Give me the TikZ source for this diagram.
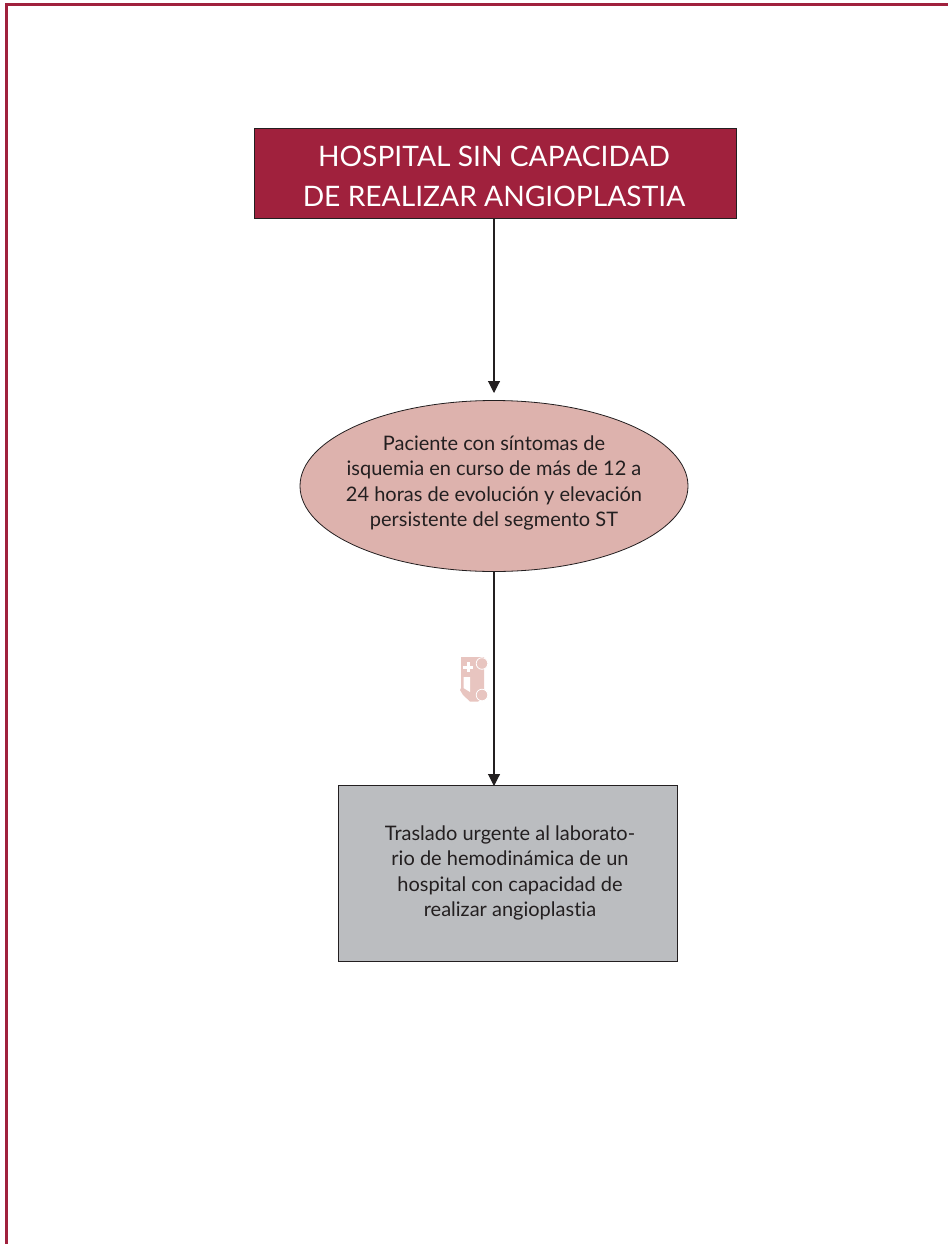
\documentclass[tikz,border=0pt]{standalone}
\usepackage{fontspec}
\setmainfont[Ligatures=NoCommon]{Lato}
\usetikzlibrary{arrows.meta,shapes.geometric}
\definecolor{wine}{HTML}{A0213D}
\definecolor{rose}{HTML}{DDB2AD}
\definecolor{slate}{HTML}{BBBDC0}
\definecolor{amb}{HTML}{E8C5C0}
\definecolor{ink}{HTML}{231F20}
\tikzset{
  x=1pt,y=-1pt,
  frameline/.style={wine,line width=3pt},
  titlebox/.style={draw=ink,line width=0.7pt,fill=wine,minimum width=482pt,minimum height=90pt,inner sep=0pt},
  titletext/.style={text=white,inner sep=0pt,align=center,font=\fontsize{28.2}{40}\selectfont},
  oval/.style={ellipse,draw=ink,line width=0.8pt,fill=rose,minimum width=388pt,minimum height=171pt,inner sep=0pt},
  greybox/.style={draw=ink,line width=0.8pt,fill=slate,minimum width=339pt,minimum height=176pt,inner sep=0pt},
  bodytext/.style={text=ink,inner sep=0pt,align=center,font=\fontsize{20}{25.5}\selectfont},
  link/.style={draw=ink,line width=1.1pt,-{Triangle[length=12pt,width=12pt]}},
}
\begin{document}
\begin{tikzpicture}
\useasboundingbox (0,0) rectangle (948,1244);
\fill[white] (0,0) rectangle (948,1244);
\draw[frameline] (6.5,1244) -- (6.5,4.5) -- (948,4.5);
\node[titlebox] (title) at (495,173) {};
\node[titletext] (titlet) at (494,176) {HOSPITAL SIN CAPACIDAD\\DE REALIZAR ANGIOPLASTIA};
\node[oval] (pat) at (494,486) {};
\node[bodytext] (patt) at (494,483) {Paciente con síntomas de\\isquemia en curso de más de 12 a\\24 horas de evolución y elevación\\persistente del segmento ST};
\node[greybox] (tras) at (508,873) {};
\node[bodytext] (trast) at (510,873) {Traslado urgente al laborato-\\rio de hemodinámica de un\\hospital con capacidad de\\realizar angioplastia};
\coordinate (t1) at (pat.north |- title.south);
\coordinate (t2) at (494,393);
\coordinate (p1) at (pat.south);
\coordinate (p2) at (494,786);
\draw[link] (t1) -- (t2);
\draw[link] (p1) -- (p2);
% ambulance icon
\fill[amb] (461,657) -- (484,657) -- (484,698) -- (478,701.5) -- (470,701.5) -- (463,695) -- (460,690) -- (461,688) -- cycle;
\fill[amb,draw=white,line width=0.8pt] (482,663.5) circle (5.8);
\fill[amb,draw=white,line width=0.8pt] (482,695) circle (5.8);
\fill[white] (466.5,662) rectangle (469.5,672);
\fill[white] (463,665.5) rectangle (473,668.5);
\fill[white] (463.5,677) -- (470,677) -- (470,692) -- (463.5,688) -- cycle;
\end{tikzpicture}
\end{document}
